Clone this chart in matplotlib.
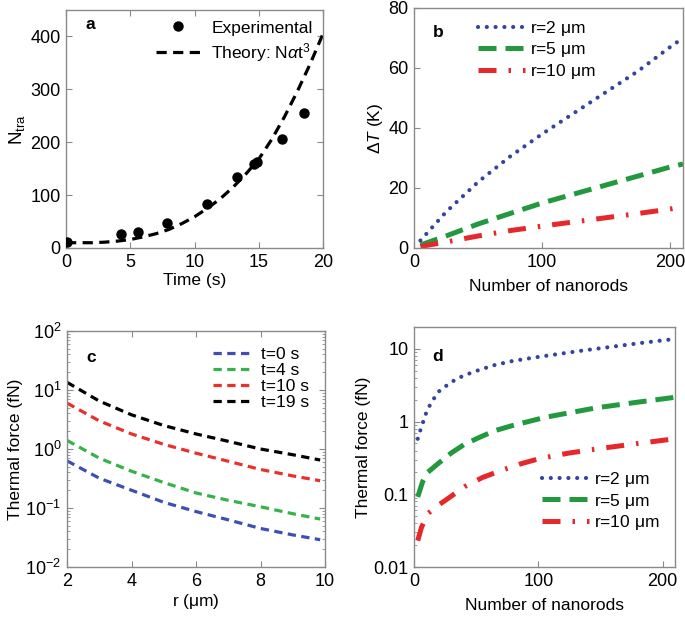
import matplotlib
matplotlib.use("Agg")
import matplotlib.pyplot as plt
from matplotlib.ticker import LogLocator, NullFormatter, FixedLocator, FixedFormatter

plt.rcParams['font.family'] = ['Liberation Sans', 'DejaVu Sans']
plt.rcParams['mathtext.fontset'] = 'custom'
plt.rcParams['mathtext.rm'] = 'Liberation Sans'
plt.rcParams['mathtext.it'] = 'Liberation Sans:italic'

# ---- Panel a data ----
exp_t = [0.05, 4.26, 5.63, 7.84, 10.95, 13.3, 14.65, 14.85, 16.8, 18.55]
exp_n = [12, 26, 31, 48, 83, 134, 158, 162, 206, 256]
theory_t = [0, 1, 2, 3, 4, 5, 6, 7, 8, 9, 10, 11, 12, 13, 14, 15, 16, 17, 18, 19, 20]
theory_n = [10, 10, 10, 11, 13, 16, 21, 27, 35, 46, 59, 75, 93, 115, 140, 168, 205, 248, 296, 348, 405]

# ---- Panel b data ----
b_n = [5, 25, 50, 75, 100, 125, 150, 175, 200, 210]
b_r2 = [2.5, 12, 22, 30.5, 38, 45, 52, 59, 67, 70]
b_r5 = [1, 4, 8, 11.5, 15, 18, 21, 24, 27, 28]
b_r10 = [0.5, 2, 4, 5.8, 7.3, 8.7, 10.1, 11.5, 13, 13.8]

# ---- Panel c data ----
c_r = [2, 3, 4, 5, 6, 7, 8, 9, 9.85]
c_t0 = [0.63, 0.32, 0.2, 0.125, 0.087, 0.063, 0.045, 0.035, 0.029]
c_t4 = [1.4, 0.7, 0.42, 0.27, 0.18, 0.135, 0.105, 0.08, 0.065]
c_t10 = [6.0, 3.0, 1.8, 1.2, 0.85, 0.62, 0.45, 0.35, 0.29]
c_t19 = [13.5, 6.5, 3.8, 2.5, 1.8, 1.35, 1.0, 0.8, 0.65]

# ---- Panel d data ----
d_n2 = [3, 5, 7, 10, 14, 20, 30, 40, 52, 65, 79, 101, 134, 161, 185, 210]
d_r2 = [0.58, 0.75, 0.95, 1.35, 1.85, 2.6, 3.5, 4.3, 5.1, 6.0, 6.8, 7.8, 9.4, 10.8, 12.2, 13.7]
d_n5 = [3, 7, 11, 20, 30, 40, 52, 65, 79, 106, 147, 180, 210]
d_r5 = [0.092, 0.15, 0.2, 0.27, 0.37, 0.48, 0.6, 0.75, 0.88, 1.15, 1.55, 1.85, 2.16]
d_n10 = [3, 6, 11, 18, 25, 41, 55, 71, 85, 101, 125, 147, 180, 210]
d_r10 = [0.023, 0.035, 0.054, 0.068, 0.082, 0.128, 0.17, 0.215, 0.26, 0.31, 0.37, 0.42, 0.5, 0.58]

BLUE = '#35449e'
GREEN = '#22993f'
RED = '#e5282c'
SPINE = '#8a8a8a'
FS = 12.5
TFS = 13

fig = plt.figure(figsize=(6.85, 6.19), dpi=100)
W, H = 685, 619
def rect(l, r, t, b):
    return [l / W, (H - b) / H, (r - l) / W, (b - t) / H]

axa = fig.add_axes(rect(66, 323, 10, 248))
axb = fig.add_axes(rect(414, 683, 8, 248))
axc = fig.add_axes(rect(67, 325, 331, 567))
axd = fig.add_axes(rect(414, 675, 327, 567))

def style(ax, top=True, right=True):
    for s in ax.spines.values():
        s.set_color(SPINE)
        s.set_linewidth(1.0)
    ax.tick_params(which='both', direction='in', top=top, right=right,
                   labelsize=TFS, color=SPINE, pad=4)
    ax.tick_params(which='major', length=4)
    ax.tick_params(which='minor', length=2.5)

DOT = (0, (0.01, 2.1))
DASH = (0, (3.6, 1.8))
DASHDOT = (0, (3.6, 2.4, 0.5, 2.4))

# Panel a
style(axa)
axa.plot(theory_t, theory_n, color='black', lw=2.3, ls=(0, (3.2, 2.0)),
         label=r'Theory: N$\alpha$t$^3$', zorder=2)
axa.plot(exp_t, exp_n, 'o', color='black', ms=6.5, label='Experimental', zorder=3)
axa.set_xlim(0, 20)
axa.set_ylim(0, 450)
axa.set_xticks([0, 5, 10, 15, 20])
axa.set_yticks([0, 100, 200, 300, 400])
axa.set_xlabel('Time (s)', fontsize=FS, labelpad=2)
axa.set_ylabel(r'N$_{\mathrm{tra}}$', fontsize=FS + 1, labelpad=2)
h, l = axa.get_legend_handles_labels()
axa.legend(h[::-1], l[::-1], loc='upper right', frameon=False, fontsize=FS,
           handlelength=2.6, borderaxespad=0.2, labelspacing=0.3, handletextpad=0.6)
axa.text(0.075, 0.92, 'a', transform=axa.transAxes, fontsize=FS, fontweight='bold')

# Panel b
style(axb, top=False, right=False)
axb.plot(b_n, b_r2, color=BLUE, lw=3.0, ls=DOT, dash_capstyle='round', label=r'r=2 $\mathrm{\mu}$m')
axb.plot(b_n, b_r5, color=GREEN, lw=3.6, ls=DASH, label=r'r=5 $\mathrm{\mu}$m')
axb.plot(b_n, b_r10, color=RED, lw=3.6, ls=DASHDOT, label=r'r=10 $\mathrm{\mu}$m')
axb.set_xlim(0, 210)
axb.set_ylim(0, 80)
axb.set_xticks([0, 100, 200])
axb.set_yticks([0, 20, 40, 60, 80])
axb.set_xlabel('Number of nanorods', fontsize=FS, labelpad=6)
axb.set_ylabel(r'$\mathit{\Delta T}$ (K)', fontsize=FS, labelpad=2)
axb.legend(loc='upper left', bbox_to_anchor=(0.18, 1.02), frameon=False, fontsize=FS,
           handlelength=2.7, labelspacing=0.15, handletextpad=0.3)
axb.text(0.07, 0.88, 'b', transform=axb.transAxes, fontsize=FS, fontweight='bold')

# Panel c
style(axc)
cd = (0, (2.6, 1.7))
axc.plot(c_r, c_t0, color='#3d4fb3', lw=2.3, ls=cd, label='t=0 s')
axc.plot(c_r, c_t4, color='#35b24a', lw=2.3, ls=cd, label='t=4 s')
axc.plot(c_r, c_t10, color='#e8302d', lw=2.3, ls=cd, label='t=10 s')
axc.plot(c_r, c_t19, color='black', lw=2.3, ls=cd, label='t=19 s')
axc.set_yscale('log')
axc.set_xlim(2, 10)
axc.set_ylim(1e-2, 1e2)
axc.set_xticks([2, 4, 6, 8, 10])
axc.yaxis.set_major_locator(LogLocator(base=10, numticks=10))
axc.yaxis.set_minor_locator(LogLocator(base=10, subs=range(2, 10), numticks=20))
axc.yaxis.set_minor_formatter(NullFormatter())
axc.set_xlabel(r'r ($\mathrm{\mu}$m)', fontsize=FS, labelpad=2)
axc.set_ylabel('Thermal force (fN)', fontsize=FS, labelpad=2)
axc.legend(loc='upper right', frameon=False, fontsize=FS, handlelength=2.4,
           labelspacing=0.05, handletextpad=0.4, borderaxespad=0.5)
axc.text(0.075, 0.87, 'c', transform=axc.transAxes, fontsize=FS, fontweight='bold')

# Panel d
style(axd, top=False, right=False)
axd.plot(d_n2, d_r2, color=BLUE, lw=3.0, ls=DOT, dash_capstyle='round', label=r'r=2 $\mathrm{\mu}$m')
axd.plot(d_n5, d_r5, color=GREEN, lw=3.6, ls=DASH, label=r'r=5 $\mathrm{\mu}$m')
axd.plot(d_n10, d_r10, color=RED, lw=3.6, ls=DASHDOT, label=r'r=10 $\mathrm{\mu}$m')
axd.set_yscale('log')
axd.set_xlim(0, 210)
axd.set_ylim(0.01, 20)
axd.set_xticks([0, 100, 200])
axd.yaxis.set_major_locator(FixedLocator([0.01, 0.1, 1, 10]))
axd.yaxis.set_major_formatter(FixedFormatter(['0.01', '0.1', '1', '10']))
axd.yaxis.set_minor_locator(LogLocator(base=10, subs=range(2, 10), numticks=20))
axd.yaxis.set_minor_formatter(NullFormatter())
axd.set_xlabel('Number of nanorods', fontsize=FS, labelpad=6)
axd.set_ylabel('Thermal force (fN)', fontsize=FS, labelpad=2)
axd.legend(loc='lower right', bbox_to_anchor=(1.0, 0.08), frameon=False, fontsize=FS,
           handlelength=2.7, labelspacing=0.15, handletextpad=0.3)
axd.text(0.07, 0.86, 'd', transform=axd.transAxes, fontsize=FS, fontweight='bold')

fig.savefig('out.png', dpi=100)
